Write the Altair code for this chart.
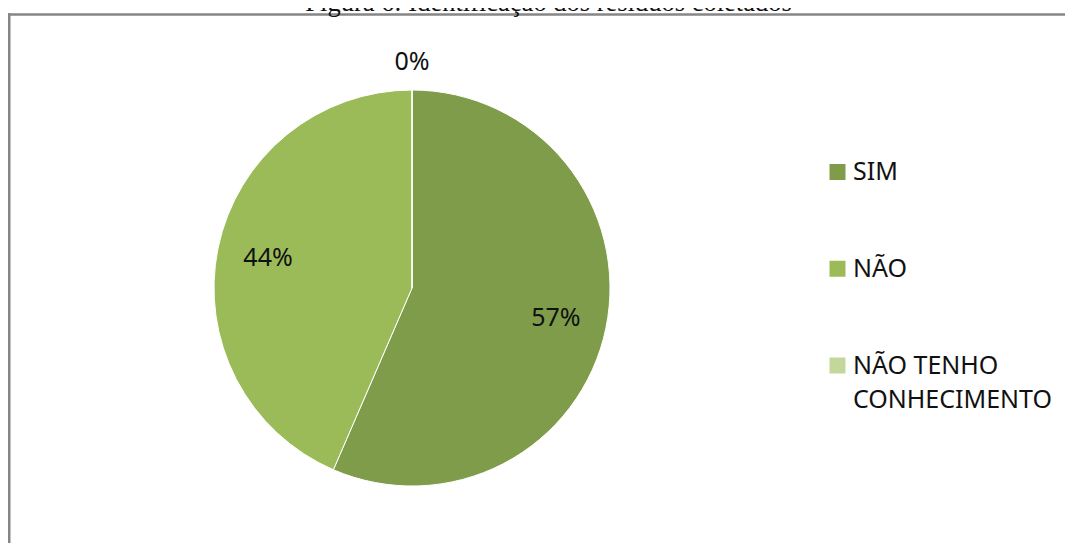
import altair as alt
import pandas as pd

titulo = "Figura 6: Identificação dos resíduos coletados"
categorias = ["SIM", "NÃO", "NÃO TENHO\nCONHECIMENTO"]
valores = [56.5, 43.5, 0.0]
cores = ["#7F9C4A", "#9BBB59", "#C3D69B"]

df = pd.DataFrame({"categoria": categorias, "valor": valores,
                   "ordem": list(range(len(categorias)))})
one = pd.DataFrame({"k": [0]})

W, H = 1057, 535
cx, cy = 404, 280
font = "Noto Sans"

color = alt.Color("categoria:N", scale=alt.Scale(domain=categorias, range=cores), legend=None)

frame_top = alt.Chart(one).mark_rule(stroke="#868686", strokeWidth=2.5).encode(
    x=alt.value(0), x2=alt.value(W), y=alt.value(6.5))
frame_left = alt.Chart(one).mark_rule(stroke="#868686", strokeWidth=2.5).encode(
    x=alt.value(1.25), y=alt.value(5.25), y2=alt.value(H))

title = alt.Chart(one).mark_text(text=titulo, font="Liberation Serif", fontSize=26.5,
                                 color="#111", align="center", baseline="alphabetic").encode(
    x=alt.value(540.5), y=alt.value(3))

base = alt.Chart(df).transform_joinaggregate(total="sum(valor)").transform_calculate(
    rotulo="round(100 * datum.valor / datum.total) + '%'")

theta = alt.Theta("valor:Q", stack=True)
order = alt.Order("ordem:Q")

pie = base.mark_arc(stroke="white", strokeWidth=1).encode(
    theta=theta, order=order, color=color,
    x=alt.value(cx), y=alt.value(cy), radius=alt.value(198))

lab_in = base.transform_filter("datum.valor > 0").mark_text(
    font=font, fontSize=25, color="#111", align="center", baseline="middle").encode(
    theta=theta, order=order, text="rotulo:N",
    x=alt.value(cx), y=alt.value(cy), radius=alt.value(147))

lab_out = base.transform_filter("datum.valor == 0").mark_text(
    font=font, fontSize=25, color="#111", align="center", baseline="middle").encode(
    theta=theta, order=order, text="rotulo:N",
    x=alt.value(cx), y=alt.value(cy), radius=alt.value(226))

ypos = alt.Y("categoria:N", sort=categorias,
             scale=alt.Scale(type="point", range=[164, 357.5], padding=0), axis=None)

leg_sq = alt.Chart(df).mark_square(size=256, opacity=1, strokeWidth=0).encode(
    x=alt.value(829.5), y=ypos, color=color)

leg_tx = alt.Chart(df).mark_text(align="left", baseline="alphabetic", dy=8, font=font,
                                 fontSize=25, lineBreak="\n", lineHeight=34, color="#111").encode(
    x=alt.value(845), y=ypos, text="categoria:N")

chart = alt.layer(frame_top, frame_left, title, pie, lab_in, lab_out, leg_sq, leg_tx).properties(
    width=W, height=H, padding=0,
    autosize=alt.AutoSizeParams(type="none")
).configure_view(stroke="transparent", strokeWidth=0)

chart.save("out.html", embed_options={"renderer": "svg", "actions": False})
